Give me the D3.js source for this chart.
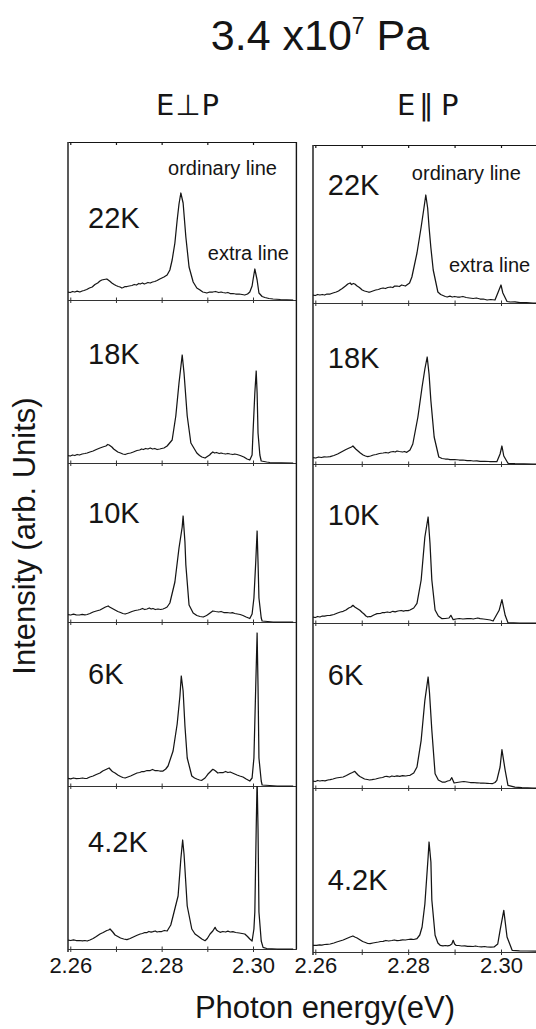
<!DOCTYPE html>
<html>
<head>
<meta charset="utf-8">
<script src="https://cdn.jsdelivr.net/npm/d3@7"></script>
<style>
  html, body { margin: 0; padding: 0; background: #fff; }
  svg { display: block; font-family: "Liberation Sans", Arial, Helvetica, sans-serif; }
</style>
</head>
<body>
<svg id="chart" width="536" height="1029"></svg>
<script>
// ---- data -------------------------------------------------------------
const temperatures = ["22K", "18K", "10K", "6K", "4.2K"];
const energyTicks = [2.26, 2.28, 2.30];
const minorTicks = [2.26, 2.27, 2.28, 2.29, 2.30, 2.31];

// PL spectra, [photon energy (eV), intensity (arb. units)], E perpendicular to P
const perp22 = [[2.2595,8],[2.2600,7.5],[2.2605,8.5],[2.2610,8],[2.2615,8.8],[2.2621,8],[2.2626,9],[2.2630,9.5],[2.2636,10.5],[2.2642,12],[2.2648,13],[2.2654,15.5],[2.2660,17],[2.2665,19],[2.2669,20],[2.2674,20.5],[2.2680,21],[2.2683,20],[2.2686,19],[2.2691,17],[2.2696,15.5],[2.2700,14.5],[2.2705,13.5],[2.2709,13],[2.2713,12],[2.2716,12.5],[2.2720,13.5],[2.2724,13.5],[2.2729,14],[2.2735,14.5],[2.2740,15.5],[2.2745,15],[2.2750,16.5],[2.2753,16],[2.2758,17],[2.2762,16],[2.2765,16.5],[2.2770,17.5],[2.2775,17],[2.2780,18],[2.2785,18.5],[2.2790,19.5],[2.2796,21],[2.2805,23],[2.2812,25],[2.2818,30],[2.2823,40],[2.2829,57],[2.2834,80],[2.2838,96],[2.2842,107],[2.2847,97],[2.2853,63],[2.2860,33],[2.2869,18],[2.2877,12],[2.2884,10],[2.2890,8],[2.2895,7.5],[2.2899,7],[2.2905,8],[2.2912,8],[2.2918,8.5],[2.2925,7.5],[2.2930,8],[2.2934,7.5],[2.2940,7],[2.2945,7.5],[2.2950,6.5],[2.2956,6.5],[2.2962,6],[2.2970,6],[2.2976,5.5],[2.2982,5],[2.2988,6],[2.2993,8],[2.2998,14],[2.3000,20],[2.3004,31],[2.3009,20],[2.3013,7],[2.3020,3.5],[2.3026,2.5],[2.3035,1.5],[2.3044,1],[2.3060,0.5],[2.3088,0]];
const perp18 = [[2.2595,7.5],[2.2600,7],[2.2605,8],[2.2610,7.5],[2.2615,8.5],[2.2620,8],[2.2626,9],[2.2632,9.5],[2.2637,10],[2.2643,11],[2.2650,12],[2.2657,13.5],[2.2665,15],[2.2671,16],[2.2678,17],[2.2682,18.5],[2.2685,18],[2.2688,17],[2.2691,16],[2.2695,14],[2.2698,13],[2.2704,11],[2.2710,10],[2.2715,9],[2.2720,8.5],[2.2726,9.5],[2.2732,10],[2.2738,11],[2.2746,12.5],[2.2752,13],[2.2756,14],[2.2760,13.5],[2.2765,14.5],[2.2770,14],[2.2775,15],[2.2780,14],[2.2785,14.5],[2.2790,13.5],[2.2796,14],[2.2800,14.5],[2.2805,15],[2.2812,17],[2.2823,23],[2.2831,47],[2.2838,80],[2.2845,108],[2.2849,90],[2.2856,47],[2.2864,20],[2.2877,10],[2.2883,7.5],[2.2888,6],[2.2895,5],[2.2900,6.5],[2.2905,8],[2.2908,9.5],[2.2912,11],[2.2916,10],[2.2920,10.5],[2.2926,9.5],[2.2930,10],[2.2934,9.5],[2.2940,9],[2.2945,9.5],[2.2950,9],[2.2956,8.5],[2.2960,9],[2.2965,8.5],[2.2972,7.5],[2.2980,6],[2.2987,4],[2.2993,3],[2.2998,8],[2.3000,30],[2.3004,70],[2.3007,92],[2.3009,70],[2.3011,30],[2.3015,8],[2.3018,2],[2.3030,1],[2.3037,0.5],[2.3088,0]];
const perp10 = [[2.2595,7.3],[2.2601,7],[2.2607,7.8],[2.2613,7.2],[2.2620,7],[2.2626,7.6],[2.2632,7.2],[2.2637,7.5],[2.2643,8.5],[2.2650,10],[2.2657,11],[2.2665,12],[2.2671,13.5],[2.2677,15],[2.2683,16],[2.2686,15],[2.2690,14],[2.2694,13],[2.2698,12],[2.2704,10.5],[2.2710,9.5],[2.2715,8.5],[2.2720,8],[2.2727,9],[2.2735,10.5],[2.2742,11.5],[2.2748,12],[2.2753,12.5],[2.2758,13.5],[2.2763,12.5],[2.2768,13],[2.2773,14],[2.2777,13],[2.2781,13.5],[2.2786,12.5],[2.2792,13],[2.2798,12.5],[2.2803,13],[2.2808,14],[2.2812,15],[2.2818,19],[2.2829,40],[2.2838,74],[2.2845,95],[2.2847,106],[2.2851,80],[2.2853,57],[2.2860,17],[2.2869,9],[2.2877,6.5],[2.2884,5.5],[2.2891,5],[2.2896,6],[2.2900,7],[2.2906,9],[2.2912,11],[2.2918,10.5],[2.2925,10],[2.2930,10.5],[2.2936,9.5],[2.2943,9.5],[2.2950,9],[2.2955,9.3],[2.2960,8.5],[2.2966,8],[2.2972,7.5],[2.2978,6.5],[2.2985,5],[2.2993,3.5],[2.2998,8],[2.3002,24],[2.3006,60],[2.3009,91],[2.3011,60],[2.3013,24],[2.3018,4],[2.3020,1],[2.3044,0],[2.3088,0]];
const perp6 = [[2.2595,7.7],[2.2601,7.2],[2.2607,8],[2.2613,7.4],[2.2620,7.5],[2.2627,8],[2.2632,7.5],[2.2637,7.7],[2.2643,9],[2.2650,10],[2.2657,11.5],[2.2665,13],[2.2671,15],[2.2678,16.5],[2.2685,18],[2.2688,16.5],[2.2691,15],[2.2694,14],[2.2698,13],[2.2704,11],[2.2710,9.5],[2.2715,8.5],[2.2720,8],[2.2726,9],[2.2732,10],[2.2739,11.5],[2.2746,13],[2.2752,13.5],[2.2757,14.5],[2.2762,14.5],[2.2768,15.5],[2.2775,15.5],[2.2780,16.5],[2.2785,15.5],[2.2790,15.5],[2.2796,15],[2.2803,15],[2.2809,17],[2.2814,20],[2.2825,35],[2.2834,62],[2.2840,90],[2.2843,110],[2.2847,95],[2.2851,60],[2.2856,28],[2.2866,10],[2.2872,8],[2.2877,7],[2.2883,6],[2.2888,5.7],[2.2895,8],[2.2901,11.7],[2.2906,14],[2.2912,16.7],[2.2915,16],[2.2918,15],[2.2923,13],[2.2928,13.5],[2.2935,13.5],[2.2940,14.5],[2.2945,13.5],[2.2950,14],[2.2955,13],[2.2960,12],[2.2965,11],[2.2971,10],[2.2978,9],[2.2985,7],[2.2993,5],[2.2998,8],[2.3002,28],[2.3006,100],[2.3009,153],[2.3011,100],[2.3013,28],[2.3018,5],[2.3020,1],[2.3053,0],[2.3088,0]];
const perp42 = [[2.2595,9],[2.2601,8.5],[2.2607,9.2],[2.2613,8.5],[2.2620,8.5],[2.2627,8.2],[2.2632,8.5],[2.2637,8],[2.2643,9],[2.2650,10.5],[2.2657,12.5],[2.2665,15],[2.2672,16.5],[2.2680,18.5],[2.2684,19],[2.2687,20],[2.2690,18.5],[2.2693,17],[2.2698,14],[2.2704,12.5],[2.2710,11],[2.2717,10],[2.2724,9.3],[2.2731,10.5],[2.2738,12],[2.2745,13.5],[2.2753,15],[2.2758,15.5],[2.2763,16.5],[2.2768,16.5],[2.2772,17.5],[2.2777,16.8],[2.2781,17.3],[2.2786,18],[2.2790,17],[2.2795,17.5],[2.2800,17.5],[2.2806,18.5],[2.2812,18],[2.2820,24],[2.2825,33],[2.2836,53],[2.2842,90],[2.2846,109],[2.2849,95],[2.2856,43],[2.2866,20],[2.2873,15],[2.2880,12.7],[2.2888,10],[2.2895,8.3],[2.2900,10.5],[2.2906,15],[2.2912,18],[2.2917,21.7],[2.2920,19],[2.2923,18],[2.2928,16.7],[2.2934,17.5],[2.2940,17],[2.2945,17.8],[2.2950,17],[2.2956,17.3],[2.2962,16.5],[2.2970,16],[2.2976,15.5],[2.2982,15],[2.2988,12.5],[2.2993,10],[2.2998,8],[2.3002,20],[2.3004,37],[2.3007,120],[2.3009,170],[2.3011,120],[2.3013,37],[2.3018,8],[2.3022,1.7],[2.3030,0.5],[2.3053,0],[2.3088,0]];

// E parallel to P
const para22 = [[2.2595,8],[2.2600,7.5],[2.2605,8.5],[2.2610,8],[2.2615,8.5],[2.2620,8],[2.2625,9],[2.2632,9],[2.2638,10],[2.2645,11],[2.2650,12],[2.2653,13],[2.2658,14.5],[2.2665,17],[2.2670,19],[2.2675,20],[2.2678,18.5],[2.2682,19.5],[2.2685,19],[2.2690,17],[2.2695,15.5],[2.2701,13],[2.2706,12],[2.2710,11.5],[2.2714,11],[2.2718,11],[2.2724,12],[2.2730,13],[2.2736,13.5],[2.2741,14.5],[2.2746,15],[2.2751,14.5],[2.2756,15.5],[2.2762,16],[2.2767,15.5],[2.2771,17],[2.2776,17],[2.2781,16.5],[2.2786,18],[2.2790,17.5],[2.2794,17],[2.2797,18],[2.2803,20],[2.2808,26],[2.2819,50],[2.2828,76],[2.2834,95],[2.2838,108],[2.2842,95],[2.2845,76],[2.2849,55],[2.2854,33],[2.2864,11],[2.2870,8.5],[2.2875,7.5],[2.2880,6.5],[2.2884,6],[2.2890,6.8],[2.2895,6],[2.2900,6.5],[2.2906,6],[2.2912,6],[2.2918,6.5],[2.2925,5.5],[2.2932,5],[2.2940,4.5],[2.2947,5],[2.2955,4],[2.2962,4],[2.2970,3],[2.2978,3.5],[2.2987,3],[2.2994,11],[2.3000,18],[2.3004,10],[2.3013,1.5],[2.3020,1],[2.3030,1.2],[2.3041,0.3],[2.3055,0.5],[2.3069,0],[2.3095,0]];
const para18 = [[2.2595,6.3],[2.2601,6],[2.2607,7],[2.2613,6.5],[2.2619,7.2],[2.2625,7],[2.2632,7.3],[2.2640,8.5],[2.2648,10],[2.2654,11.5],[2.2660,13],[2.2666,14.5],[2.2673,16],[2.2678,17],[2.2681,18],[2.2684,16.5],[2.2687,15],[2.2692,13],[2.2697,11],[2.2703,9],[2.2708,8],[2.2713,7.3],[2.2719,8],[2.2725,9],[2.2731,9.5],[2.2738,10.5],[2.2746,11],[2.2752,11.5],[2.2757,11],[2.2762,12],[2.2768,12.5],[2.2772,12],[2.2776,13],[2.2781,12.5],[2.2788,12],[2.2792,12.5],[2.2797,11.7],[2.2804,14],[2.2810,20],[2.2821,47],[2.2830,77],[2.2836,95],[2.2841,107],[2.2845,90],[2.2849,63],[2.2856,27],[2.2866,7],[2.2873,5.5],[2.2880,5],[2.2885,5],[2.2890,4.3],[2.2900,4.5],[2.2910,4],[2.2918,4],[2.2927,3.3],[2.2934,3.5],[2.2940,3],[2.2948,3.2],[2.2955,2.7],[2.2965,2.7],[2.2975,2.5],[2.2983,2.5],[2.2991,2.3],[2.2998,10],[2.3002,18],[2.3006,8],[2.3015,0.7],[2.3030,0.3],[2.3069,0],[2.3095,0]];
const para10 = [[2.2595,6],[2.2600,5.5],[2.2605,6.5],[2.2610,6],[2.2615,7],[2.2620,6.8],[2.2626,7.5],[2.2632,7.7],[2.2640,8.5],[2.2648,10],[2.2654,11],[2.2660,11.7],[2.2666,13],[2.2672,15],[2.2677,16],[2.2681,17.7],[2.2685,16],[2.2690,14.5],[2.2696,12.7],[2.2701,10.5],[2.2705,9],[2.2709,7],[2.2713,6],[2.2716,6.5],[2.2720,6.5],[2.2726,8],[2.2733,9.3],[2.2740,9.5],[2.2745,10.5],[2.2750,10.5],[2.2755,11],[2.2761,10.5],[2.2767,11.7],[2.2772,11.2],[2.2778,12],[2.2785,12.5],[2.2790,11.8],[2.2795,12.5],[2.2800,12.3],[2.2804,13],[2.2812,15],[2.2819,19.7],[2.2828,43],[2.2836,86],[2.2843,106],[2.2847,80],[2.2851,43],[2.2858,13],[2.2865,7],[2.2873,4.3],[2.2880,4.5],[2.2888,5],[2.2892,7.7],[2.2897,3.3],[2.2903,4],[2.2910,4.5],[2.2918,4],[2.2927,4.3],[2.2935,4.5],[2.2940,4],[2.2945,4.5],[2.2950,5],[2.2955,4.3],[2.2962,4],[2.2970,3.5],[2.2977,3],[2.2983,2],[2.2996,12.7],[2.3002,23.3],[2.3009,7.7],[2.3015,0.3],[2.3040,0],[2.3095,0]];
const para6 = [[2.2595,7],[2.2600,6.5],[2.2605,7.5],[2.2610,7],[2.2615,7.5],[2.2621,7.2],[2.2627,8],[2.2632,8.3],[2.2638,9],[2.2645,10],[2.2652,10.5],[2.2660,11],[2.2667,12.5],[2.2675,14.5],[2.2680,15.5],[2.2685,16.7],[2.2688,15],[2.2692,13],[2.2696,11.5],[2.2701,10.3],[2.2706,9],[2.2712,8.5],[2.2717,8],[2.2722,8.3],[2.2730,9],[2.2738,10],[2.2745,10.5],[2.2750,11.5],[2.2754,11.7],[2.2760,11],[2.2765,12],[2.2770,11.5],[2.2776,12.2],[2.2782,11.7],[2.2788,12.3],[2.2795,12],[2.2800,12.5],[2.2804,12.7],[2.2812,15],[2.2819,21],[2.2828,47.7],[2.2836,87.7],[2.2843,111],[2.2846,95],[2.2851,57.7],[2.2858,14.3],[2.2865,8],[2.2873,6],[2.2880,6],[2.2885,7],[2.2890,7.5],[2.2894,10.3],[2.2899,5],[2.2905,5.5],[2.2912,6],[2.2920,6.5],[2.2927,6],[2.2934,5.5],[2.2940,5.5],[2.2948,5.2],[2.2955,5],[2.2962,5],[2.2970,4.7],[2.2976,4.5],[2.2981,4.3],[2.2987,5.5],[2.2991,7.7],[2.2998,21],[2.3002,38.3],[2.3009,17.7],[2.3015,2.7],[2.3030,0.8],[2.3045,0.3],[2.3069,0],[2.3095,0]];
const para42 = [[2.2595,6.7],[2.2603,6.7],[2.2609,7.2],[2.2614,6.8],[2.2620,7.5],[2.2625,7.7],[2.2632,8],[2.2640,9],[2.2646,10],[2.2653,11],[2.2660,12],[2.2665,13],[2.2670,14],[2.2675,15],[2.2681,16],[2.2685,15],[2.2690,14],[2.2696,12.3],[2.2702,10.5],[2.2708,9.5],[2.2713,8.5],[2.2718,8.3],[2.2724,9],[2.2730,9.5],[2.2736,10],[2.2741,10.5],[2.2746,10.7],[2.2752,11.5],[2.2758,11],[2.2765,11.5],[2.2770,12],[2.2776,11.3],[2.2782,11.7],[2.2788,12.2],[2.2794,12],[2.2800,12.5],[2.2806,12.8],[2.2812,12.5],[2.2819,13.3],[2.2825,17],[2.2830,25],[2.2836,48],[2.2843,95],[2.2845,110],[2.2849,90],[2.2851,52],[2.2858,16.7],[2.2864,9],[2.2869,6.7],[2.2875,6.2],[2.2880,6.5],[2.2885,6.2],[2.2890,6.7],[2.2894,8],[2.2897,11.7],[2.2900,8],[2.2903,6.7],[2.2909,6.5],[2.2915,6],[2.2922,6.2],[2.2928,5.7],[2.2933,5.7],[2.2940,5.5],[2.2945,6],[2.2950,5.5],[2.2958,5.2],[2.2965,5.5],[2.2970,5],[2.2978,4.8],[2.2985,5],[2.2993,8],[2.2998,21.7],[2.3006,41.7],[2.3013,15],[2.3024,1.7],[2.3040,1.2],[2.3056,1],[2.3095,0.5]];

const perpSpectra = [perp22, perp18, perp10, perp6, perp42];
const paraSpectra = [para22, para18, para10, para6, para42];

// ---- layout -----------------------------------------------------------
const energyDomain = [2.2595, 2.3095];
const panels = [
  {
    spectra: perpSpectra, title: "E⊥P", titleX: 188,
    x0: 68, x1: 296.4,
    rowEdges: [142, 300, 463, 622, 786, 949],
    tempAt: { e: 2.2639, h: [72, 99, 99, 102, 97] },
    notes: [{ text: "ordinary line", e: 2.2814, h: 125 }, { text: "extra line", e: 2.2901, h: 40 }]
  },
  {
    spectra: paraSpectra, title: "E‖P", titleX: 427,
    x0: 313, x1: 545.1,
    rowEdges: [145, 303, 464, 623, 788, 952],
    tempAt: { e: 2.2627, h: [108, 96, 98, 103, 62] },
    notes: [{ text: "ordinary line", e: 2.2808, h: 123 }, { text: "extra line", e: 2.2888, h: 31 }]
  }
];

const ink = "#151515";
const svg = d3.select("#chart");
const defs = svg.append("defs");

// heading
const head = svg.append("text")
  .attr("x", 320).attr("y", 50)
  .attr("text-anchor", "middle")
  .attr("font-size", 43).attr("fill", ink);
head.append("tspan").text("3.4 x10");
head.append("tspan").attr("dy", -16).attr("font-size", 23).text("7");
head.append("tspan").attr("dy", 16).text(" Pa");

panels.forEach((p, pi) => {
  const x = d3.scaleLinear().domain(energyDomain).range([p.x0, p.x1]);
  const g = svg.append("g");
  const top = p.rowEdges[0];
  const bottom = p.rowEdges[p.rowEdges.length - 1];

  // polarization heading
  if (pi === 0) {
    g.append("text").attr("x", p.titleX).attr("y", 115)
      .attr("text-anchor", "middle").attr("font-size", 29).attr("fill", ink)
      .attr("font-family", "'DejaVu Sans', sans-serif")
      .attr("letter-spacing", 1)
      .text(p.title);
  } else {
    const t = g.append("text").attr("y", 115).attr("font-size", 29).attr("fill", ink)
      .attr("font-family", "'DejaVu Sans', sans-serif");
    t.append("tspan").attr("x", 397).text("E");
    t.append("tspan").attr("x", 419).text("‖");
    t.append("tspan").attr("x", 441).text("P");
  }

  const ticks = minorTicks.filter(v => v >= energyDomain[0] && v <= energyDomain[1]);

  p.spectra.forEach((data, ri) => {
    const rTop = p.rowEdges[ri], rBot = p.rowEdges[ri + 1];
    const y = d3.scaleLinear().domain([0, 100]).range([rBot, rBot - 100]);
    const clipId = `clip-${pi}-${ri}`;
    defs.append("clipPath").attr("id", clipId)
      .append("rect").attr("x", p.x0).attr("y", rTop)
      .attr("width", p.x1 - p.x0).attr("height", rBot - rTop + 1);

    // baseline axis with ticks crossing the line
    const axDown = g.append("g").attr("transform", `translate(0,${rBot})`)
      .call(d3.axisBottom(x).tickValues(ticks).tickSize(3).tickSizeOuter(0).tickFormat(""));
    const axUp = g.append("g").attr("transform", `translate(0,${rBot})`)
      .call(d3.axisTop(x).tickValues(ticks).tickSize(2.5).tickSizeOuter(0).tickFormat(""));
    [axDown, axUp].forEach(a => {
      a.selectAll("path").attr("stroke", "#333").attr("stroke-width", 1);
      a.selectAll("line").attr("stroke", "#333").attr("stroke-width", 1);
    });

    const line = d3.line().x(d => x(d[0])).y(d => y(d[1]));
    g.append("path").datum(data)
      .attr("clip-path", `url(#${clipId})`)
      .attr("d", line)
      .attr("fill", "none").attr("stroke", ink)
      .attr("stroke-width", 1.25).attr("stroke-linejoin", "round");

    g.append("text")
      .attr("x", x(p.tempAt.e)).attr("y", y(p.tempAt.h[ri]))
      .attr("font-size", 29).attr("fill", ink)
      .text(temperatures[ri]);

    if (ri === 0) {
      p.notes.forEach(n => {
        g.append("text").attr("x", x(n.e)).attr("y", y(n.h))
          .attr("font-size", 20).attr("fill", ink).text(n.text);
      });
    }
  });

  // frame: top edge with inward ticks, side edges
  const topAx = g.append("g").attr("transform", `translate(0,${top})`)
    .call(d3.axisBottom(x).tickValues(ticks).tickSize(3).tickSizeOuter(0).tickFormat(""));
  topAx.selectAll("path,line").attr("stroke", ink).attr("stroke-width", 1.2);
  g.append("line").attr("x1", p.x0).attr("x2", p.x0).attr("y1", top).attr("y2", bottom + 3)
    .attr("stroke", ink).attr("stroke-width", 1.4);
  g.append("line").attr("x1", p.x1).attr("x2", p.x1).attr("y1", top).attr("y2", bottom)
    .attr("stroke", ink).attr("stroke-width", 1.4);

  // energy tick labels under the last row
  const lab = g.append("g").attr("transform", `translate(0,${bottom})`)
    .call(d3.axisBottom(x).tickValues(energyTicks).tickSize(0).tickFormat(d3.format(".2f")));
  lab.select(".domain").remove();
  lab.selectAll("text")
    .attr("y", 973 - bottom).attr("dy", 0)
    .attr("font-size", 22).attr("fill", ink)
    .attr("font-family", "'Liberation Sans', Arial, sans-serif");
});

// axis titles
svg.append("text")
  .attr("transform", "translate(35,536) rotate(-90)")
  .attr("text-anchor", "middle").attr("font-size", 31).attr("fill", ink)
  .text("Intensity (arb. Units)");
svg.append("text")
  .attr("x", 325).attr("y", 1018)
  .attr("text-anchor", "middle").attr("font-size", 31).attr("fill", ink)
  .text("Photon energy(eV)");
</script>
</body>
</html>
